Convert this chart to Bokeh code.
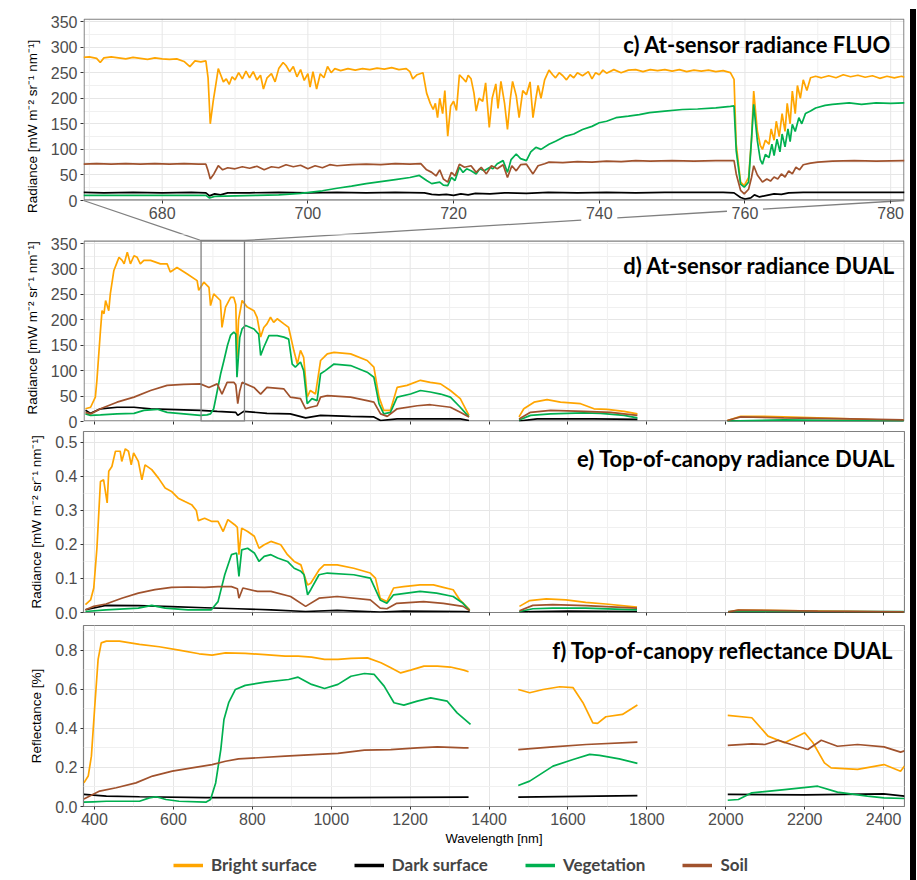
import numpy as np
from bokeh.plotting import figure
from bokeh.models import (Range1d, FixedTicker, Label, BoxAnnotation,
                          Legend, LegendItem, Div, Spacer, NumeralTickFormatter)
from bokeh.layouts import column, row
from bokeh.embed import file_html
from bokeh.resources import INLINE

NAN = float("nan")

SERIES = ["Bright surface", "Dark surface", "Vegetation", "Soil"]
COLORS = ["#FFA500", "#000000", "#00B050", "#A0522D"]

TITLES = {"c": "c) At-sensor radiance FLUO", "d": "d) At-sensor radiance DUAL",
          "e": "e) Top-of-canopy radiance DUAL", "f": "f) Top-of-canopy reflectance DUAL"}
RAD_LABEL = "Radiance [mW m\u207b\u00b2 sr\u207b\u00b9 nm\u207b\u00b9]"
REF_LABEL = "Reflectance [%]"
X_LABEL = "Wavelength [nm]"

C_XTICKS = [680, 700, 720, 740, 760, 780]
C_XMINOR = [670, 690, 710, 730, 750, 770]
RAD_YTICKS = [0, 50, 100, 150, 200, 250, 300, 350]
RAD_YMINOR = [25, 75, 125, 175, 225, 275, 325]
DUAL_XTICKS = [400, 600, 800, 1000, 1200, 1400, 1600, 1800, 2000, 2200, 2400]
DUAL_XMINOR = [500, 700, 900, 1100, 1300, 1500, 1700, 1900, 2100, 2300]
E_YTICKS = [0.0, 0.1, 0.2, 0.3, 0.4, 0.5]
E_YMINOR = [0.05, 0.15, 0.25, 0.35, 0.45]
F_YTICKS = [0.0, 0.2, 0.4, 0.6, 0.8]
F_YMINOR = [0.1, 0.3, 0.5, 0.7, 0.9]
ZOOM_BOX = (670, 780)

# ---------------- panel c: At-sensor radiance FLUO ----------------
C_BRIGHT_WL = [669.2, 670, 671, 671.5, 672, 673, 674, 675, 676, 677, 678, 679, 680, 681, 682, 683, 683.8, 684.5, 685.3, 686,
               686.3, 686.6, 687, 687.4, 687.7, 688, 688.4, 688.8, 689.2, 689.6, 690, 690.5, 691, 691.5, 692, 692.5, 693, 693.5,
               693.9, 694.4, 695, 695.5, 696, 696.6, 697, 697.5, 698, 698.5, 699, 699.5, 700, 700.3, 700.7, 701.2, 701.7, 702.2,
               702.7, 703.2, 703.7, 704.5, 705.5, 706.5, 707.5, 708.5, 709.5, 710.5, 711.5, 712.5, 713.5, 714, 714.4, 715, 715.8,
               716.3, 716.8, 717.2, 717.5, 717.8, 718.1, 718.5, 718.8, 719.2, 719.6, 720, 720.4, 720.8, 721.2, 721.7, 722, 722.4,
               722.8, 723.1, 723.5, 724, 724.4, 724.9, 725.3, 725.8, 726.1, 726.5, 727, 727.4, 727.8, 728.1, 728.6, 729, 729.5,
               730, 730.5, 730.9, 731.3, 731.6, 732, 732.5, 733.1, 733.6, 734, 734.5, 735, 735.5, 736, 736.5, 737, 737.7, 738.5,
               739, 739.5, 740, 740.5, 741, 742, 743, 744, 745, 746, 747, 748, 749, 750, 751, 752, 753, 754, 755, 756, 757, 758,
               758.5, 758.8, 759.4, 759.9, 760.5, 760.9, 761.2, 761.7, 762.1, 762.4, 762.8, 763.3, 763.6, 764, 764.3, 764.7, 765.1,
               765.5, 765.8, 766.2, 766.5, 766.9, 767.2, 767.6, 768, 768.5, 769, 769.7, 770.5, 771.5, 772.5, 773.5, 774.5, 775.5,
               776.5, 777.5, 778.5, 779.5, 780.5, 781.5, 781.9]
C_BRIGHT = [280, 281, 278, 270, 279, 281, 279, 277, 280, 278, 276, 279, 277, 276, 277, 272, 262, 273, 271, 273,
            240, 150, 194, 230, 258, 247, 232, 238, 227, 242, 236, 250, 238, 253, 240, 252, 236, 245,
            218, 240, 248, 232, 258, 270, 264, 252, 262, 242, 256, 235, 248, 222, 252, 218, 248, 240,
            262, 250, 258, 254, 258, 255, 258, 256, 259, 257, 260, 256, 258, 252, 238, 246, 250,
            210, 190, 178, 190, 162, 200, 170, 215, 126, 185, 194, 176, 246, 240, 232, 245, 238,
            210, 175, 200, 194, 230, 143, 200, 228, 180, 233, 190, 139, 200, 233, 205, 162, 215,
            207, 232, 162, 200, 225, 200, 236, 255, 246, 240, 250, 244, 236, 246, 240, 250, 244, 252,
            238, 250, 246, 255, 249, 256, 250, 255, 256, 252, 256, 254, 256, 253, 256, 252, 255, 253, 255, 252, 254, 250,
            237, 110, 36, 29, 45, 120, 214, 136, 108, 100, 118, 110, 140, 118, 155, 125, 170,
            135, 190, 150, 214, 170, 225, 200, 236, 215, 240, 243, 240, 244, 240, 246, 242, 245,
            241, 244, 239, 243, 240, 243, 241]

C_VEG_WL = [669.2, 672, 676, 680, 684, 686, 686.5, 687.2, 690, 693, 696, 699, 702, 704, 706, 708, 710, 712, 714, 715.3,
            716.3, 717, 718.1, 718.6, 719.2, 719.7, 720.2, 720.8, 721.3, 721.8, 722.4, 723.1, 723.6, 724.2, 725, 725.4, 726,
            726.8, 727.4, 727.9, 728.6, 729.2, 730, 730.6, 731.3, 732, 733.1, 734, 735.4, 736.5, 737.7, 739, 740, 741, 742.3,
            744, 745.5, 746.9, 749, 751.4, 753.5, 756, 758, 758.5, 758.8, 759.4, 759.9, 760.5, 760.9, 761.2, 761.7, 762.1,
            762.4, 762.8, 763.3, 763.7, 764, 764.4, 764.8, 765.1, 765.5, 765.9, 766.2, 766.5, 766.9, 767.4, 767.8, 768.3,
            769, 769.7, 771, 772, 774.3, 776, 778, 780, 781.9]
C_VEG = [10, 10, 10, 10, 10, 10, 5, 8, 9, 10, 11, 14, 19, 24, 28, 33, 37, 41, 45, 49,
         39, 33, 36, 30, 29, 45, 39, 65, 55, 62, 58, 52, 62, 58, 65, 62, 72,
         78, 55, 80, 91, 82, 78, 95, 104, 100, 110, 116, 126, 130, 139, 145, 152, 155, 162,
         165, 168, 172, 175, 178, 179, 181, 184, 185, 97, 32, 26, 36, 120, 188, 117, 80,
         71, 90, 84, 110, 88, 120, 95, 130, 105, 140, 115, 149, 135, 162, 150, 170,
         175, 181, 186, 188, 191, 188, 191, 190, 191]

C_SOIL_WL = [669.2, 671, 673, 675, 677, 679, 681, 683, 685, 686, 686.3, 686.6, 687.1, 687.7, 688.3, 689, 690, 691, 692, 693,
             694, 695, 696, 697, 698, 699, 700, 701, 702, 703, 704, 706, 708, 710, 712, 714, 715.5, 716.3, 717, 717.6, 718.1,
             718.6, 719.2, 719.7, 720.2, 720.8, 721.5, 722.4, 723.1, 723.8, 724.5, 725.2, 726, 726.8, 727.4, 728, 728.6, 729.2,
             730, 730.9, 731.6, 732.5, 733.1, 735, 737, 739, 741, 743, 745, 747, 750, 753, 756, 758.5, 758.8, 759.4, 759.9,
             760.5, 760.9, 761.2, 761.7, 762.4, 763, 763.5, 764, 764.5, 765, 765.5, 766, 766.5, 767, 767.5, 768, 769, 770, 772,
             775, 778, 781.9]
C_SOIL = [71, 72, 71, 72, 71, 72, 71, 72, 71, 71, 58, 42, 52, 68, 60, 64, 62, 66, 63, 67,
          60, 66, 64, 70, 66, 69, 62, 68, 64, 70, 68, 70, 71, 70, 72, 71, 72, 60, 55, 48, 60,
          42, 36, 55, 48, 71, 65, 68, 55, 65, 52, 68, 62, 70, 45, 68, 58, 70,
          71, 52, 68, 72, 75, 74, 76, 75, 77, 76, 78, 77, 78, 77, 78, 78, 52, 20, 13,
          22, 45, 68, 50, 36, 42, 38, 46, 42, 52, 46, 58, 52, 65, 60, 70, 73, 75, 77,
          78, 77, 78]

C_DARK_WL = [669.2, 672, 676, 680, 684, 686, 686.5, 687.2, 688, 689, 692, 696, 700, 704, 708, 712, 716, 717, 718, 719, 720,
             721, 722, 723, 725, 727, 730, 733, 737, 741, 745, 749, 753, 757, 758.5, 759.4, 760, 760.8, 761.3, 762, 763, 764,
             765, 766, 768, 772, 776, 781.9]
C_DARK = [16, 15, 16, 15, 16, 15, 9, 13, 11, 15, 15, 16, 15, 16, 15, 16, 15, 12, 11, 12, 10,
          13, 11, 14, 13, 15, 14, 16, 15, 16, 15, 16, 16, 16, 15, 6, 3, 5, 11, 7, 10, 13,
          12, 15, 16, 16, 16, 16]

# ---------------- panel d: At-sensor radiance DUAL ----------------
D_BRIGHT_WL = [377, 390, 402, 406, 415, 419, 424, 428, 436, 440, 449, 457, 462, 470, 475, 483, 491, 500, 508, 516, 525,
               542, 567, 584, 592, 609, 635, 660, 664, 677, 690, 694, 702, 719, 723, 732, 745, 753, 758, 761, 765, 774, 787,
               804, 812, 821, 829, 837, 846, 854, 863, 880, 892, 905, 914, 922, 930, 939, 947, 960, 973, 981, 990, 1007,
               1049, 1091, 1108, 1121, 1133, 1150, 1167, 1192, 1226, 1251, 1277, 1302, 1327, 1349, NAN,
               1476, 1488, 1514, 1547, 1581, 1632, 1666, 1699, 1742, 1776, NAN,
               2004, 2038, 2097, 2147, 2232, 2316, 2401, 2451]
D_BRIGHT = [25, 28, 48, 81, 179, 218, 212, 238, 218, 251, 297, 313, 323, 317, 310, 333, 310, 326, 323, 310, 317,
            317, 310, 310, 294, 303, 290, 277, 258, 274, 264, 228, 251, 238, 185, 225, 244, 244, 230, 126, 200, 238, 225,
            218, 205, 166, 185, 192, 205, 195, 202, 192, 185, 140, 113, 140, 126, 48, 61, 54, 120, 126, 133, 136,
            133, 120, 107, 48, 22, 22, 67, 71, 81, 77, 74, 61, 45, 12, NAN,
            9, 25, 38, 43, 38, 35, 25, 24, 20, 15, NAN,
            2, 10, 10, 9, 7, 5, 3, 3]

D_VEG_WL = [377, 390, 415, 457, 500, 525, 559, 584, 626, 668, 685, 694, 702, 711, 720, 728, 737, 745, 753, 758, 761, 764,
            768, 774, 783, 804, 816, 821, 829, 842, 863, 880, 892, 901, 909, 922, 930, 939, 951, 964, 973, 985, 1007, 1049,
            1091, 1108, 1121, 1133, 1150, 1167, 1201, 1226, 1251, 1277, 1302, 1327, 1349, NAN,
            1476, 1505, 1556, 1640, 1683, 1742, 1776, NAN, 2004, 2147, 2316, 2451]
D_VEG = [15, 12, 13, 15, 16, 22, 24, 18, 15, 12, 13, 15, 25, 60, 95, 120, 150, 170, 176, 172, 87, 120,
         165, 182, 189, 182, 172, 130, 146, 169, 169, 166, 162, 113, 107, 117, 100, 35, 45, 41, 94, 100, 113, 110,
         97, 87, 35, 15, 18, 48, 54, 61, 58, 54, 48, 28, 9, NAN,
         3, 12, 15, 17, 16, 12, 7, NAN, 1, 3, 2, 1]

D_SOIL_WL = [377, 390, 415, 457, 500, 542, 584, 626, 668, 690, 711, 723, 736, 753, 758, 763, 768, 774, 804, 821, 837, 880,
             896, 922, 935, 947, 964, 973, 990, 1049, 1091, 1108, 1125, 1142, 1167, 1218, 1251, 1302, 1327, 1349, NAN,
             1476, 1505, 1556, 1640, 1708, 1776, NAN, 2004, 2038, 2147, 2316, 2451]
D_SOIL = [18, 15, 25, 38, 48, 61, 71, 73, 74, 67, 74, 54, 77, 77, 72, 35, 60, 77, 67, 54, 67, 64,
          48, 45, 25, 28, 31, 48, 51, 48, 41, 38, 15, 10, 25, 31, 33, 28, 18, 9, NAN,
          5, 18, 22, 20, 18, 12, NAN, 2, 9, 7, 5, 3]

D_DARK_WL = [377, 390, 415, 457, 500, 542, 584, 626, 668, 711, 758, 763, 778, 837, 896, 935, 973, 1049, 1108, 1125,
             1167, 1260, 1327, 1349, NAN, 1476, 1522, 1666, 1776, NAN, 2004, 2451]
D_DARK = [22, 16, 25, 28, 28, 25, 24, 23, 22, 20, 18, 12, 20, 16, 15, 7, 12, 10, 9, 2,
          5, 5, 5, 2, NAN, 1, 5, 5, 4, NAN, 1, 1]

# ---------------- panel e: Top-of-canopy radiance DUAL ----------------
E_BRIGHT_WL = [377, 390, 398, 406, 415, 423, 432, 436, 444, 453, 465, 469, 478, 486, 493, 499, 511, 520, 528, 545, 562,
               579, 595, 612, 629, 646, 658, 663, 679, 696, 713, 726, 738, 755, 762, 766, 773, 788, 805, 817, 830, 847,
               872, 889, 906, 923, 931, 940, 948, 969, 982, 1015, 1057, 1099, 1112, 1124, 1141, 1158, 1183, 1225, 1259,
               1284, 1309, 1326, 1351, NAN, 1477, 1503, 1545, 1595, 1645, 1696, 1775, NAN,
               2006, 2032, 2107, 2233, 2451]
E_BRIGHT = [0.023, 0.037, 0.072, 0.189, 0.385, 0.390, 0.322, 0.415, 0.429, 0.474, 0.474, 0.444, 0.481, 0.474, 0.434,
            0.469, 0.444, 0.390, 0.434, 0.420, 0.395, 0.366, 0.356, 0.336, 0.326, 0.317, 0.300, 0.270, 0.277, 0.268,
            0.268, 0.238, 0.273, 0.258, 0.250, 0.170, 0.248, 0.238, 0.224, 0.189, 0.199, 0.209, 0.199, 0.170, 0.150,
            0.140, 0.111, 0.081, 0.086, 0.125, 0.140, 0.140, 0.130, 0.116, 0.101, 0.042, 0.032, 0.072, 0.076, 0.081,
            0.081, 0.074, 0.067, 0.037, 0.008, NAN, 0.018, 0.035, 0.040, 0.037, 0.030, 0.025, 0.016, NAN,
            0.001, 0.007, 0.006, 0.004, 0.001]

E_VEG_WL = [377, 429, 511, 545, 579, 637, 696, 713, 730, 747, 760, 766, 773, 788, 805, 817, 830, 847, 864, 889, 906, 923,
            931, 940, 948, 969, 990, 1057, 1099, 1124, 1141, 1158, 1225, 1267, 1309, 1334, 1351, NAN,
            1477, 1511, 1561, 1645, 1775, NAN, 2006, 2451]
E_VEG = [0.003, 0.008, 0.013, 0.021, 0.013, 0.008, 0.008, 0.032, 0.111, 0.170, 0.175, 0.106, 0.184, 0.189, 0.175,
         0.150, 0.165, 0.170, 0.160, 0.150, 0.130, 0.121, 0.111, 0.052, 0.067, 0.111, 0.116, 0.111, 0.101, 0.037,
         0.027, 0.052, 0.062, 0.057, 0.047, 0.027, 0.005, NAN, 0.003, 0.011, 0.013, 0.013, 0.008, NAN, 0.003, 0.003]

E_SOIL_WL = [377, 398, 429, 469, 511, 553, 595, 637, 679, 713, 747, 762, 766, 776, 813, 847, 897, 935, 969, 1015, 1099,
             1124, 1141, 1166, 1234, 1284, 1334, 1351, NAN, 1477, 1511, 1561, 1645, 1775, NAN, 2006, 2032, 2233, 2451]
E_SOIL = [0.008, 0.018, 0.025, 0.042, 0.057, 0.067, 0.074, 0.075, 0.074, 0.076, 0.076, 0.070, 0.042, 0.072, 0.062,
          0.062, 0.047, 0.018, 0.042, 0.047, 0.037, 0.013, 0.011, 0.027, 0.032, 0.027, 0.018, 0.005, NAN,
          0.005, 0.021, 0.023, 0.020, 0.013, NAN, 0.002, 0.007, 0.004, 0.002]

E_DARK_WL = [377, 429, 511, 595, 679, 763, 847, 935, 1015, 1124, 1183, 1334, 1351, NAN, 1477, 1600, 1775, NAN, 2006, 2451]
E_DARK = [0.008, 0.021, 0.020, 0.017, 0.014, 0.011, 0.008, 0.003, 0.006, 0.001, 0.004, 0.003, 0.002, NAN,
          0.002, 0.004, 0.003, NAN, 0.001, 0.001]

# ---------------- panel f: Top-of-canopy reflectance DUAL ----------------
F_BRIGHT_WL = [373, 384, 392, 400, 409, 417, 430, 463, 514, 564, 614, 665, 698, 732, 782, 832, 883, 916, 950, 983, 1017,
               1050, 1092, 1126, 1151, 1176, 1201, 1235, 1269, 1302, 1336, 1348, NAN,
               1474, 1503, 1537, 1579, 1613, 1638, 1663, 1675, 1696, 1738, 1776, NAN,
               2005, 2066, 2107, 2149, 2200, 2221, 2250, 2267, 2334, 2401, 2443, 2453]
F_BRIGHT = [0.121, 0.156, 0.258, 0.497, 0.754, 0.839, 0.848, 0.848, 0.831, 0.819, 0.802, 0.783, 0.776, 0.788, 0.785,
            0.779, 0.771, 0.771, 0.766, 0.754, 0.754, 0.759, 0.762, 0.737, 0.711, 0.685, 0.699, 0.720, 0.720, 0.715,
            0.699, 0.691, NAN, 0.600, 0.583, 0.600, 0.614, 0.609, 0.532, 0.429, 0.426, 0.460, 0.472, 0.520, NAN,
            0.467, 0.455, 0.361, 0.327, 0.378, 0.327, 0.224, 0.198, 0.190, 0.215, 0.181, 0.207]

F_VEG_WL = [373, 396, 430, 514, 539, 556, 581, 614, 682, 694, 707, 720, 728, 740, 757, 782, 832, 892, 916, 950, 983, 1017,
            1050, 1084, 1109, 1134, 1159, 1184, 1218, 1252, 1294, 1319, 1353, NAN,
            1474, 1503, 1562, 1613, 1655, 1680, 1730, 1776, NAN,
            2005, 2032, 2066, 2149, 2233, 2283, 2359, 2401, 2453]
F_VEG = [0.022, 0.024, 0.027, 0.027, 0.044, 0.050, 0.036, 0.027, 0.022, 0.036, 0.121, 0.292, 0.446, 0.532, 0.600,
         0.621, 0.638, 0.651, 0.663, 0.626, 0.605, 0.626, 0.668, 0.682, 0.677, 0.617, 0.532, 0.520, 0.540, 0.557,
         0.540, 0.480, 0.421, NAN, 0.108, 0.130, 0.207, 0.241, 0.267, 0.262, 0.244, 0.221, NAN,
         0.032, 0.036, 0.070, 0.087, 0.104, 0.074, 0.053, 0.044, 0.041]

F_SOIL_WL = [373, 413, 455, 505, 547, 597, 647, 698, 732, 765, 815, 883, 966, 1017, 1084, 1151, 1218, 1269, 1336, 1348, NAN,
             1474, 1562, 1646, 1776, NAN, 2005, 2066, 2099, 2133, 2166, 2208, 2242, 2283, 2334, 2401, 2443, 2453]
F_SOIL = [0.039, 0.079, 0.096, 0.121, 0.156, 0.181, 0.198, 0.215, 0.232, 0.244, 0.250, 0.258, 0.267, 0.272, 0.289,
          0.292, 0.301, 0.306, 0.301, 0.301, NAN, 0.292, 0.306, 0.318, 0.330, NAN,
          0.313, 0.321, 0.318, 0.340, 0.318, 0.292, 0.340, 0.309, 0.318, 0.306, 0.279, 0.285]

F_DARK_WL = [373, 430, 514, 682, 1017, 1348, NAN, 1474, 1776, NAN, 2005, 2200, 2400, 2453]
F_DARK = [0.062, 0.053, 0.050, 0.046, 0.046, 0.048, NAN, 0.048, 0.056, NAN, 0.062, 0.060, 0.065, 0.053]

PANEL_DATA = {
    "c": [(C_BRIGHT_WL, C_BRIGHT), (C_DARK_WL, C_DARK), (C_VEG_WL, C_VEG), (C_SOIL_WL, C_SOIL)],
    "d": [(D_BRIGHT_WL, D_BRIGHT), (D_DARK_WL, D_DARK), (D_VEG_WL, D_VEG), (D_SOIL_WL, D_SOIL)],
    "e": [(E_BRIGHT_WL, E_BRIGHT), (E_DARK_WL, E_DARK), (E_VEG_WL, E_VEG), (E_SOIL_WL, E_SOIL)],
    "f": [(F_BRIGHT_WL, F_BRIGHT), (F_DARK_WL, F_DARK), (F_VEG_WL, F_VEG), (F_SOIL_WL, F_SOIL)],
}

# ---------------- layout geometry (page pixels) ----------------
# v*: visible panel box; f*: bokeh frame (c and d frames are enlarged so the
# zoom connectors can be drawn as glyphs between the two panels)
W = 905
GEOM = {
    "c": dict(off=0, h=234, left=83, right=904, vtop=18, vbottom=200, ftop=18, fbottom=234,
              xr=(669.2, 781.9), vyr=(0, 356)),
    "d": dict(off=234, h=196, left=83, right=904, vtop=240, vbottom=421, ftop=234, fbottom=421,
              xr=(372, 2453), vyr=(0, 356)),
    "e": dict(off=430, h=191, left=78, right=904, vtop=431, vbottom=612, ftop=431, fbottom=612,
              xr=(372, 2453), vyr=(0, 0.532)),
    "f": dict(off=621, h=229, left=77, right=904, vtop=625, vbottom=806, ftop=625, fbottom=806,
              xr=(372, 2453), vyr=(0, 0.928)),
}
LEGEND_H = 30
LEGEND_LEFT = 173
TITLE_POS = {"c": (891, 44), "d": (895, 265), "e": (895, 458), "f": (893, 650)}

AXIS_FONT = "Liberation Sans"
TITLE_FONT = "Lato"
GRID_MAJOR = "#E6E6E6"
GRID_MINOR = "#F0F0F0"
FRAME_COLOR = "#808080"


def to_data(k, px, py):
    g = GEOM[k]
    x0, x1 = g["xr"]
    y0, y1 = g["vyr"]
    x = x0 + (px - g["left"]) * (x1 - x0) / (g["right"] - g["left"])
    y = y1 - (py - g["vtop"]) * (y1 - y0) / (g["vbottom"] - g["vtop"])
    return x, y


def to_px(k, x, y):
    g = GEOM[k]
    x0, x1 = g["xr"]
    y0, y1 = g["vyr"]
    px = g["left"] + (x - x0) * (g["right"] - g["left"]) / (x1 - x0)
    py = g["vtop"] + (y1 - y) * (g["vbottom"] - g["vtop"]) / (y1 - y0)
    return px, py


def make_panel(k, xticks, xminor, yticks, yminor, ylabel, xlabels, yfmt=None):
    g = GEOM[k]
    custom_box = (g["ftop"] != g["vtop"]) or (g["fbottom"] != g["vbottom"])
    ylo = to_data(k, g["left"], g["fbottom"])[1]
    yhi = to_data(k, g["left"], g["ftop"])[1]
    p = figure(width=W, height=g["h"], x_range=Range1d(*g["xr"]), y_range=Range1d(ylo, yhi),
               output_backend="svg", toolbar_location=None,
               min_border_left=g["left"], min_border_right=W - g["right"],
               min_border_top=g["ftop"] - g["off"], min_border_bottom=g["off"] + g["h"] - g["fbottom"])
    p.background_fill_color = "white"
    p.border_fill_color = "white"
    p.xaxis.ticker = FixedTicker(ticks=xticks, minor_ticks=xminor)
    p.yaxis.ticker = FixedTicker(ticks=yticks, minor_ticks=yminor)
    for gr in (p.xgrid, p.ygrid):
        gr.grid_line_color = GRID_MAJOR
        gr.grid_line_width = 1
        gr.minor_grid_line_color = GRID_MINOR
        gr.minor_grid_line_width = 1
    for ax in (p.xaxis, p.yaxis):
        ax.axis_line_color = None
        ax.major_tick_line_color = "#333333"
        ax.major_tick_out = 3
        ax.major_tick_in = 0
        ax.minor_tick_line_color = None
        ax.major_label_text_font = AXIS_FONT
        ax.major_label_text_font_size = "16px"
        ax.major_label_text_color = "#4D4D4D"
        ax.major_label_standoff = 2
        ax.axis_label_text_font = AXIS_FONT
        ax.axis_label_text_font_size = "13.5px"
        ax.axis_label_text_font_style = "normal"
        ax.axis_label_text_color = "#000000"
    p.yaxis.axis_label = ylabel
    p.yaxis.axis_label_standoff = 8
    if yfmt:
        p.yaxis.formatter = NumeralTickFormatter(format=yfmt)
    if not xlabels:
        p.xaxis.major_label_text_font_size = "0px"
        p.xaxis.major_label_text_color = None
        p.xaxis.major_label_standoff = 0

    if custom_box:
        vy0, vy1 = g["vyr"]
        p.yaxis.bounds = (vy0, vy1)
        p.outline_line_color = None
        p.xgrid.visible = False
        p.segment(x0=xminor, y0=[vy0] * len(xminor), x1=xminor, y1=[vy1] * len(xminor),
                  line_color=GRID_MINOR, line_width=1)
        p.segment(x0=xticks, y0=[vy0] * len(xticks), x1=xticks, y1=[vy1] * len(xticks),
                  line_color=GRID_MAJOR, line_width=1)
        if g["fbottom"] != g["vbottom"]:
            p.xaxis.fixed_location = vy0
        # panel border, inset half a pixel so it is not clipped by the frame
        corners = [(g["left"] + 0.6, g["vtop"] + 0.6), (g["right"] - 0.6, g["vtop"] + 0.6),
                   (g["right"] - 0.6, g["vbottom"] - 0.6), (g["left"] + 0.6, g["vbottom"] - 0.6),
                   (g["left"] + 0.6, g["vtop"] + 0.6)]
        bx = [to_data(k, *c)[0] for c in corners]
        by = [to_data(k, *c)[1] for c in corners]
        p.line(x=bx, y=by, line_color=FRAME_COLOR, line_width=1.2)
    else:
        p.outline_line_color = FRAME_COLOR
        p.outline_line_width = 1.2

    for (wl, vals), col in zip(PANEL_DATA[k], COLORS):
        p.line(x=np.array(wl, dtype=float), y=np.array(vals, dtype=float),
               line_color=col, line_width=1.7)
    tx, ty = to_data(k, *TITLE_POS[k])
    p.add_layout(Label(x=tx, y=ty, text=TITLES[k], text_align="right", text_baseline="alphabetic",
                       text_font=TITLE_FONT, text_font_style="bold", text_font_size="22px",
                       text_color="#000000"))
    return p


pc = make_panel("c", C_XTICKS, C_XMINOR, RAD_YTICKS, RAD_YMINOR, RAD_LABEL, True)
pd_ = make_panel("d", DUAL_XTICKS, DUAL_XMINOR, RAD_YTICKS, RAD_YMINOR, RAD_LABEL, False)
pe = make_panel("e", DUAL_XTICKS, DUAL_XMINOR, E_YTICKS, E_YMINOR, RAD_LABEL, False, "0.0")
pf = make_panel("f", DUAL_XTICKS, DUAL_XMINOR, F_YTICKS, F_YMINOR, REF_LABEL, True, "0.0")
pf.xaxis.axis_label = X_LABEL
pf.xaxis.axis_label_text_font_size = "13px"
pf.xaxis.axis_label_standoff = 3

# zoom box in panel d
pd_.add_layout(BoxAnnotation(left=ZOOM_BOX[0], right=ZOOM_BOX[1], bottom=GEOM["d"]["vyr"][0],
                             top=GEOM["d"]["vyr"][1], fill_alpha=0, line_alpha=1,
                             line_color=FRAME_COLOR, line_width=1.3))

# connector lines (page pixels), drawn as glyphs in both panels c and d
bl = to_px("d", ZOOM_BOX[0], GEOM["d"]["vyr"][1])
br = to_px("d", ZOOM_BOX[1], GEOM["d"]["vyr"][1])
cl = (GEOM["c"]["left"], GEOM["c"]["vbottom"])
cr = (GEOM["c"]["right"], GEOM["c"]["vbottom"])


def seg_pts(a, b, x_from, x_to):
    def at(xx):
        t = (xx - a[0]) / (b[0] - a[0])
        return xx, a[1] + t * (b[1] - a[1])
    return at(x_from), at(x_to)


gaps = []
for tv in (740, 760):
    px, _ = to_px("c", tv, 0)
    gaps.append((px - 18, px + 18))
xs_sorted = [br[0]] + [v for gp in gaps for v in gp] + [cr[0]]
right_pieces = [seg_pts(br, cr, xs_sorted[i], xs_sorted[i + 1]) for i in range(0, len(xs_sorted), 2)]
left_piece = (cl, bl)

for k, p in (("c", pc), ("d", pd_)):
    for (a, b) in [left_piece] + right_pieces:
        xa, ya = to_data(k, *a)
        xb, yb = to_data(k, *b)
        p.line(x=[xa, xb], y=[ya, yb], line_color=FRAME_COLOR, line_width=1.3)

# legend in its own strip
pl = figure(width=W, height=LEGEND_H, x_range=Range1d(0, 1), y_range=Range1d(0, 1),
            output_backend="svg", toolbar_location=None, x_axis_type=None, y_axis_type=None,
            min_border_left=GEOM["d"]["left"], min_border_right=W - GEOM["d"]["right"],
            min_border_top=0, min_border_bottom=0)
pl.outline_line_color = None
pl.xgrid.visible = False
pl.ygrid.visible = False
items = []
for name, col in zip(SERIES, COLORS):
    r = pl.line(x=[-10, -9], y=[-10, -10], line_color=col, line_width=3.5)
    items.append(LegendItem(label=name, renderers=[r]))
leg = Legend(items=items, orientation="horizontal", location=(LEGEND_LEFT - GEOM["d"]["left"], 5),
             label_text_font=TITLE_FONT, label_text_font_style="bold", label_text_font_size="17px",
             glyph_width=30, glyph_height=16, label_standoff=8, spacing=37, padding=0, margin=0,
             border_line_alpha=0, background_fill_alpha=0)
pl.add_layout(leg, "center")

bar = Div(width=6, height=876, styles={"background-color": "black"})
layout = row(column(pc, pd_, pe, pf, pl, spacing=0), column(Spacer(height=4), bar, spacing=0), spacing=0)

with open("out.html", "w") as fh:
    fh.write(file_html(layout, INLINE))
